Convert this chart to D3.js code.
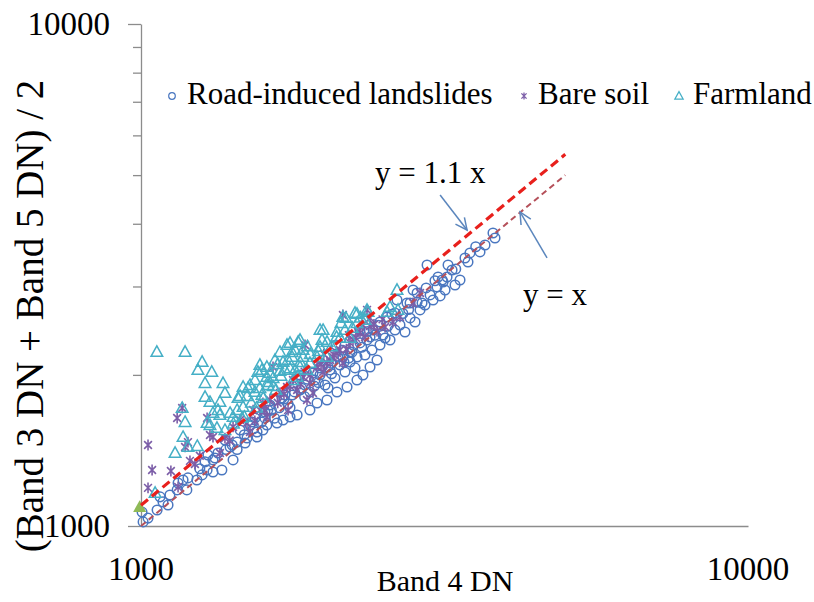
<!DOCTYPE html>
<html>
<head>
<meta charset="utf-8">
<script src="https://cdn.jsdelivr.net/npm/d3@7"></script>
<style>
  body { margin: 0; background: #fff; }
  #wrap { position: relative; width: 814px; height: 602px; }
  #ylabel {
    position: absolute; left: -270px; top: 296px; width: 600px; height: 40px;
    line-height: 40px; text-align: center; white-space: nowrap;
    font-family: "Liberation Serif", "Times New Roman", serif; font-size: 39px; color: #000;
    transform: rotate(-90deg);
  }
</style>
</head>
<body>
<div id="wrap">
<svg id="chart" width="814" height="602"></svg>
</div>
<script>
/*
    Scatter values: [Band 4 DN, (Band 3 DN + Band 5 DN) / 2]
 */
var landslides = [[1004,1066],[1027,1037],[1008,1019],[1063,1076],[1087,1117],[1108,1101],[1075,1143],[1116,1153],[1147,1180],[1151,1218],[1173,1235],[1195,1247],[1236,1235],[1261,1264],[1285,1293],[1314,1281],[1359,1293],[1324,1366],[1339,1398],[1275,1342],[1314,1354],[1289,1385],[1418,1354],[1402,1437],[1440,1469],[1484,1463],[1495,1497],[1553,1504],[1553,1539],[1588,1553],[1612,1589],[1675,1604],[1714,1626],[1760,1649],[1808,1664],[1898,1702],[1950,1758],[2025,1782],[2033,1883],[2103,1849],[2185,1892],[2269,1953],[2321,1999],[2384,2074],[2448,2141],[2269,2171],[2210,2221],[2295,2316],[2384,2380],[1456,1553],[1512,1589],[1541,1641],[1600,1687],[1631,1742],[1662,1782],[1707,1799],[1747,1750],[1774,1824],[1828,1866],[1863,1909],[1898,1849],[1935,1953],[1972,1999],[2010,1909],[2048,2046],[2087,1971],[2127,2093],[2168,2027],[2210,2122],[2252,2065],[2339,2191],[2402,2242],[2476,2294],[2524,2369],[2505,2402],[2572,2347],[2621,2457],[2671,2514],[2722,2435],[2775,2597],[2828,2549],[2882,2694],[2937,2756],[2994,2886],[3028,2820],[3110,2873],[3169,2952],[3205,3311],[3254,3236],[3193,3133],[3291,3021],[3354,3090],[3418,3419],[3483,3499],[3618,3516],[3688,3629],[3801,3834],[3830,3747],[2960,3311],[3086,3133],[3145,3062],[3074,2993],[2850,2912],[2743,2781],[2641,2820],[2621,2657],[2543,2609],[2412,2457],[2357,2347],[2227,2221],[2151,2171],[2033,2074],[1972,2065],[1920,2018],[3457,3356],[3134,3090],[2904,2781],[2807,2952],[2775,2781],[2476,2549],[2295,2457],[2095,2294],[1828,1999],[1727,1824],[1618,1702],[1524,1611],[1413,1450],[1375,1483],
    [1480,1520],[1530,1560],[1580,1610],[1640,1700],[1690,1720],[1720,1790],[1790,1850],[1840,1880],[1880,1960],[1930,1900],[1990,2080],[2060,2110],[2110,2170],[2150,2240],[2200,2160],[2240,2290],[2310,2270],[2360,2440],[2430,2400],[2460,2510],[2550,2500],[2590,2640],[2700,2650],[2760,2700],[2850,2790],[2950,2980],[3050,3080],[3300,3250],[3560,3600],[1660,1640],[1760,1720],[1860,1810],[1960,1930],[2060,2010],[2160,2120],[1600,1640],[1440,1420],[1380,1420],[1250,1300],[1190,1180]];

var bareSoil = [[1027,1450],[1043,1293],[1027,1191],[1120,1287],[1147,1641],[1169,1718],[1182,1437],[1204,1348],[1227,1329],[1151,1196],[1299,1518],[1285,1641],[1349,1398],[1375,1497],[1418,1575],[1456,1626],[1495,1604],[1512,1539],[1570,1702],[1612,1649],[1650,2074],[1631,1782],[1694,1841],[1740,1892],[1780,1953],[1808,1866],[1849,1981],[1898,1926],[1950,2074],[1995,2027],[2048,2141],[2103,2211],[2151,2112],[2210,2316],[2151,2632],[2357,2694],[2295,2424],[2384,2502],[2448,2446],[2384,2597],[2321,2514],[2339,2380],[2235,2347],[2127,2242],[2071,2171],[2025,2112],[1863,2294],[1747,1702],[1588,1758],[1530,1702],[1920,1841],[1877,1782],[2671,2609],[2807,2781],[2882,2912],[2278,2435],[1314,1504],[1195,1469],[2601,2549],[2524,2491],
    [1540,1620],[1680,1760],[1720,1830],[1830,1920],[1900,2000],[1980,2100],[2080,2190],[2180,2250],[2260,2370],[2420,2520],[2500,2580],[1600,1700],[1400,1480],[1250,1380],[2000,2200],[2200,2400],[1760,1900],[1860,2030]];

var farmland = [[1062,2222],[1182,2222],[1261,2122],[1241,2046],[1308,2027],[1275,1926],[1365,1926],[1275,1807],[1299,1766],[1349,1766],[1375,1841],[1339,1702],[1169,1718],[1182,1611],[1173,1504],[1138,1398],[1195,1437],[1238,1443],[1285,1604],[1314,1679],[1440,1702],[1445,1799],[1473,1892],[1512,1909],[1541,1849],[1570,1883],[1570,2093],[1558,2027],[1612,2074],[1612,1981],[1650,1971],[1618,1909],[1740,2294],[1774,2221],[1828,2347],[1747,2141],[1794,2046],[1849,2242],[1780,1953],[1877,2046],[1495,1815],[1473,1726],[1402,1679],[1418,1649],[1375,1553],[1334,1568],[1456,1815],[1501,1883],[1582,2046],[1631,2018],[1618,1935],[1760,2316],[1815,2327],[1794,2242],[1774,2171],[1849,2171],[1898,2112],[1972,2273],[1987,2347],[1950,2171],[2025,2171],[1808,1981],[1828,2074],[1727,2046],[2135,2537],[2176,2597],[2252,2657],[2168,2457],[2357,2694],[2339,2573],[2127,2369],[2210,2369],[2269,2537],[1995,2457],[2025,2326],[2103,2435],[2151,2609],[2366,2669],[2543,2669],[2641,2952],[2651,2694],[2572,2731],[1055,1164],[1299,1589],[1349,1664],[1467,1641],[1541,1953],[1662,2141],[1694,2221],[1694,2036],[1582,1824],[1668,1866],[1714,2122],[1972,2457],[2269,2645],
    [1520,1760],[1590,1800],[1650,1900],[1700,1990],[1760,2060],[1830,2120],[1900,2200],[1960,2230],[2060,2280],[2100,2380],[1480,1650],[1420,1600],[1550,1720],[1680,2100],[1880,2280],[2230,2480],[2300,2600]];

// single filled green marker sitting on the y axis
var extraPoint = [[995,1091]];

// reference lines y = k x
var refLines = [{name: "y = x", k: 1}, {name: "y = 1.1 x", k: 1.1}];
var lineRange = [1000, 5000];

// arrow annotations (data units)
var notes = [
    {label: "y = 1.1 x", text: [2430, 4824], tail: [3110, 4564], head: [3445, 3887]},
    {label: "y = x", text: [4259, 2755], tail: [4666, 3420], head: [4211, 4222]}
];

var majorTicks = [1000, 10000];
var minorTicks = [2000, 3000, 4000, 5000, 6000, 7000, 8000, 9000];

var legendItems = ["Road-induced landslides", "Bare soil", "Farmland"];
var yTitle = "(Band 3 DN + Band 5 DN) / 2";
var xTitle = "Band 4 DN";

var svg = d3.select("#chart");
var axisColor = "#8c8c8c";

var x = d3.scaleLog().domain([1000, 10000]).range([141, 748]);
var y = d3.scaleLog().domain([1000, 10000]).range([526, 24]);

var label = function (px, py, size, txt, anchor) {
    return svg.append("text")
        .attr("x", px)
        .attr("y", py)
        .attr("font-family", "Liberation Serif, Times New Roman, serif")
        .attr("font-size", size)
        .attr("text-anchor", anchor || "start")
        .attr("fill", "#000")
        .text(txt);
};

/*
    Axes
 */
svg.append("g")
    .attr("transform", "translate(0,526)")
    .call(d3.axisBottom(x).tickValues(majorTicks).tickSize(0).tickSizeOuter(0).tickFormat(""));

var yMinor = svg.append("g")
    .attr("transform", "translate(141,0)")
    .call(d3.axisLeft(y).tickValues(minorTicks).tickSize(8).tickFormat(""));
yMinor.select(".domain").remove();

svg.append("g")
    .attr("transform", "translate(141,0)")
    .call(d3.axisLeft(y).tickValues(majorTicks).tickSize(13).tickSizeOuter(0).tickFormat(""));

svg.selectAll(".domain, .tick line")
    .attr("stroke", axisColor)
    .attr("stroke-width", 1.3);

majorTicks.forEach(function (v) {
    label(x(v), 580, 33, d3.format("d")(v), "middle");
    label(110, y(v) + 11, 33, d3.format("d")(v), "end");
});

label(445, 591, 30, xTitle, "middle");

// rotated title as an html block, which keeps the serif face
d3.select("#wrap").append("div")
    .attr("id", "ylabel")
    .text(yTitle);

/*
    Marker shapes
 */
var starPath = function (s) {
    var d = s * 0.72;
    return "M0," + (-s) + "V" + s +
        "M" + (-d) + "," + (-d) + "L" + d + "," + d +
        "M" + (-d) + "," + d + "L" + d + "," + (-d);
};

var trianglePath = function (s) {
    return "M0," + (-s * 1.05) + "L" + s + "," + (s * 0.75) + "L" + (-s) + "," + (s * 0.75) + "Z";
};

var circleColor = "#4a77c0";
var starColor = "#7c5ea8";
var triColor = "#45afc6";

var plot = svg.append("g");

plot.selectAll(".landslide")
    .data(landslides)
    .enter().append("circle")
    .attr("class", "landslide")
    .attr("cx", function (d) { return x(d[0]); })
    .attr("cy", function (d) { return y(d[1]); })
    .attr("r", 4.8)
    .attr("fill", "none")
    .attr("stroke", circleColor)
    .attr("stroke-width", 1.5);

plot.selectAll(".bare")
    .data(bareSoil)
    .enter().append("path")
    .attr("class", "bare")
    .attr("transform", function (d) { return "translate(" + x(d[0]) + "," + y(d[1]) + ")"; })
    .attr("d", starPath(5.4))
    .attr("fill", "none")
    .attr("stroke", starColor)
    .attr("stroke-width", 1.6);

plot.selectAll(".farm")
    .data(farmland)
    .enter().append("path")
    .attr("class", "farm")
    .attr("transform", function (d) { return "translate(" + x(d[0]) + "," + y(d[1]) + ")"; })
    .attr("d", trianglePath(5.8))
    .attr("fill", "none")
    .attr("stroke", triColor)
    .attr("stroke-width", 1.5);

plot.selectAll(".extra")
    .data(extraPoint)
    .enter().append("path")
    .attr("class", "extra")
    .attr("transform", function (d) { return "translate(" + x(d[0]) + "," + y(d[1]) + ")"; })
    .attr("d", trianglePath(6.5))
    .attr("fill", "#8fba57");

/*
    Reference lines
 */
var line = d3.line()
    .x(function (d) { return x(d[0]); })
    .y(function (d) { return y(d[1]); });

svg.selectAll(".ref")
    .data(refLines)
    .enter().append("path")
    .attr("class", "ref")
    .attr("d", function (r) {
        return line(lineRange.map(function (v) { return [v, v * r.k]; }));
    })
    .attr("fill", "none")
    .attr("stroke", function (r) { return r.k === 1 ? "#b5505a" : "#e8201c"; })
    .attr("stroke-width", function (r) { return r.k === 1 ? 2 : 3.2; })
    .attr("stroke-dasharray", function (r) { return r.k === 1 ? "6,4" : "9,5"; });

/*
    Arrow annotations
 */
var arrowColor = "#5b86bd";
notes.forEach(function (n) {
    var x0 = x(n.tail[0]), y0 = y(n.tail[1]);
    var x1 = x(n.head[0]), y1 = y(n.head[1]);
    var ang = Math.atan2(y1 - y0, x1 - x0);
    var len = 13, spread = 0.45;

    svg.append("line")
        .attr("x1", x0).attr("y1", y0)
        .attr("x2", x1).attr("y2", y1)
        .attr("stroke", arrowColor)
        .attr("stroke-width", 1.5);

    svg.append("path")
        .attr("d", "M" + (x1 - len * Math.cos(ang - spread)) + "," + (y1 - len * Math.sin(ang - spread)) +
            "L" + x1 + "," + y1 +
            "L" + (x1 - len * Math.cos(ang + spread)) + "," + (y1 - len * Math.sin(ang + spread)))
        .attr("fill", "none")
        .attr("stroke", arrowColor)
        .attr("stroke-width", 1.5);

    label(x(n.text[0]), y(n.text[1]), 31, n.label);
});

/*
    Legend
 */
var legendX = [172, 524, 679];
legendItems.forEach(function (d, i) {
    var g = svg.append("g").attr("transform", "translate(" + legendX[i] + ",96)");
    if (i === 0) {
        g.append("circle").attr("r", 3.3).attr("fill", "none")
            .attr("stroke", circleColor).attr("stroke-width", 1.2);
    } else if (i === 1) {
        g.append("path").attr("d", starPath(3.6)).attr("fill", "none")
            .attr("stroke", starColor).attr("stroke-width", 1.3);
    } else {
        g.append("path").attr("d", trianglePath(4.2)).attr("fill", "none")
            .attr("stroke", triColor).attr("stroke-width", 1.2);
    }
    label(legendX[i] + (i === 0 ? 15 : 14), 104, 31, d);
});
</script>
</body>
</html>
